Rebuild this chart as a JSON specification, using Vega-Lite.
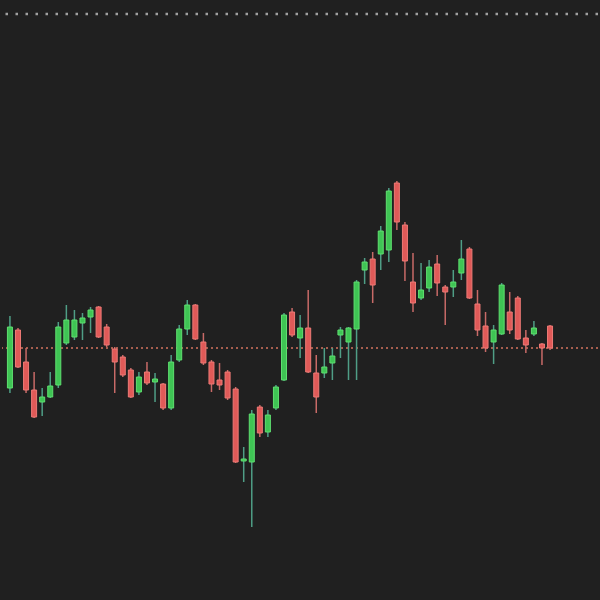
{
  "$schema": "https://vega.github.io/schema/vega-lite/v6.json",
  "autosize": {"type": "fit", "contains": "padding"},
  "width": 600,
  "height": 600,
  "padding": 0,
  "background": "#202020",
  "config": {"view": {"stroke": null}},
  "datasets": {
    "candles": [
      {"i":1,"open":212,"close":273,"high":284,"low":207},
      {"i":2,"open":270,"close":233,"high":272,"low":232},
      {"i":3,"open":238,"close":210,"high":252,"low":207},
      {"i":4,"open":210,"close":183,"high":228,"low":182},
      {"i":5,"open":198,"close":203,"high":212,"low":184},
      {"i":6,"open":203,"close":214,"high":228,"low":202},
      {"i":7,"open":215,"close":273,"high":278,"low":212},
      {"i":8,"open":257,"close":280,"high":295,"low":255},
      {"i":9,"open":263,"close":280,"high":290,"low":260},
      {"i":10,"open":277,"close":282,"high":287,"low":260},
      {"i":11,"open":283,"close":290,"high":293,"low":267},
      {"i":12,"open":293,"close":263,"high":294,"low":262},
      {"i":13,"open":273,"close":255,"high":276,"low":253},
      {"i":14,"open":251,"close":238,"high":253,"low":207},
      {"i":15,"open":243,"close":225,"high":245,"low":223},
      {"i":16,"open":230,"close":203,"high":232,"low":202},
      {"i":17,"open":208,"close":223,"high":228,"low":205},
      {"i":18,"open":228,"close":217,"high":238,"low":215},
      {"i":19,"open":218,"close":221,"high":227,"low":198},
      {"i":20,"open":216,"close":192,"high":217,"low":190},
      {"i":21,"open":192,"close":238,"high":245,"low":190},
      {"i":22,"open":240,"close":271,"high":275,"low":238},
      {"i":23,"open":271,"close":295,"high":300,"low":265},
      {"i":24,"open":295,"close":261,"high":296,"low":260},
      {"i":25,"open":258,"close":237,"high":267,"low":235},
      {"i":26,"open":238,"close":216,"high":240,"low":208},
      {"i":27,"open":220,"close":215,"high":237,"low":210},
      {"i":28,"open":228,"close":202,"high":230,"low":200},
      {"i":29,"open":211,"close":138,"high":213,"low":137},
      {"i":30,"open":139,"close":141,"high":153,"low":118},
      {"i":31,"open":138,"close":186,"high":190,"low":73},
      {"i":32,"open":193,"close":167,"high":195,"low":163},
      {"i":33,"open":168,"close":185,"high":190,"low":163},
      {"i":34,"open":192,"close":213,"high":215,"low":190},
      {"i":35,"open":220,"close":285,"high":287,"low":219},
      {"i":36,"open":288,"close":265,"high":292,"low":263},
      {"i":37,"open":262,"close":272,"high":285,"low":242},
      {"i":38,"open":272,"close":228,"high":310,"low":227},
      {"i":39,"open":227,"close":203,"high":245,"low":187},
      {"i":40,"open":227,"close":233,"high":252,"low":222},
      {"i":41,"open":237,"close":244,"high":252,"low":220},
      {"i":42,"open":265,"close":270,"high":273,"low":242},
      {"i":43,"open":258,"close":272,"high":273,"low":220},
      {"i":44,"open":271,"close":318,"high":320,"low":220},
      {"i":45,"open":330,"close":338,"high":342,"low":316},
      {"i":46,"open":341,"close":315,"high":348,"low":297},
      {"i":47,"open":346,"close":369,"high":374,"low":330},
      {"i":48,"open":350,"close":409,"high":412,"low":338},
      {"i":49,"open":417,"close":378,"high":419,"low":370},
      {"i":50,"open":375,"close":339,"high":378,"low":319},
      {"i":51,"open":318,"close":297,"high":347,"low":288},
      {"i":52,"open":302,"close":310,"high":337,"low":300},
      {"i":53,"open":312,"close":333,"high":340,"low":308},
      {"i":54,"open":336,"close":317,"high":345,"low":304},
      {"i":55,"open":313,"close":308,"high":315,"low":275},
      {"i":56,"open":313,"close":318,"high":330,"low":303},
      {"i":57,"open":327,"close":341,"high":360,"low":320},
      {"i":58,"open":351,"close":302,"high":353,"low":301},
      {"i":59,"open":296,"close":270,"high":310,"low":264},
      {"i":60,"open":274,"close":252,"high":288,"low":248},
      {"i":61,"open":258,"close":270,"high":275,"low":236},
      {"i":62,"open":266,"close":315,"high":317,"low":265},
      {"i":63,"open":288,"close":270,"high":308,"low":266},
      {"i":64,"open":302,"close":261,"high":304,"low":260},
      {"i":65,"open":262,"close":255,"high":270,"low":247},
      {"i":66,"open":266,"close":272,"high":279,"low":264},
      {"i":67,"open":256,"close":252,"high":257,"low":235},
      {"i":68,"open":274,"close":252,"high":275,"low":250}
    ],
    "lines": [
      {"level": 586, "kind": "top"},
      {"level": 252, "kind": "last"}
    ]
  },
  "layer": [
    {
      "data": {"name": "lines"},
      "transform": [{"filter": "datum.kind === 'top'"}],
      "mark": {"type": "rule", "stroke": "#a0a0a0", "strokeWidth": 2.5, "strokeDash": [2.5, 7.5]},
      "encoding": {
        "y": {"field": "level", "type": "quantitative", "scale": {"domain": [0, 600], "nice": false, "zero": false}, "axis": null}
      }
    },
    {
      "data": {"name": "lines"},
      "transform": [{"filter": "datum.kind === 'last'"}],
      "mark": {"type": "rule", "stroke": "#d4735e", "strokeWidth": 1.5, "strokeDash": [2, 3]},
      "encoding": {
        "y": {"field": "level", "type": "quantitative", "scale": {"domain": [0, 600], "nice": false, "zero": false}, "axis": null}
      }
    },
    {
      "data": {"name": "candles"},
      "mark": {"type": "rule", "strokeWidth": 1.5},
      "encoding": {
        "x": {"field": "i", "type": "quantitative", "scale": {"domain": [0.6365, 73.33], "nice": false, "zero": false}, "axis": null},
        "y": {"field": "low", "type": "quantitative", "scale": {"domain": [0, 600], "nice": false, "zero": false}, "axis": null},
        "y2": {"field": "high"},
        "color": {
          "condition": {"test": "datum.close >= datum.open", "value": "#4f9e86"},
          "value": "#c86a67"
        }
      }
    },
    {
      "data": {"name": "candles"},
      "mark": {"type": "bar", "size": 5, "strokeWidth": 1},
      "encoding": {
        "x": {"field": "i", "type": "quantitative", "scale": {"domain": [0.6365, 73.33], "nice": false, "zero": false}, "axis": null},
        "y": {"field": "open", "type": "quantitative", "scale": {"domain": [0, 600], "nice": false, "zero": false}, "axis": null},
        "y2": {"field": "close"},
        "fill": {
          "condition": {"test": "datum.close >= datum.open", "value": "#3fc454"},
          "value": "#e05a58"
        },
        "stroke": {
          "condition": {"test": "datum.close >= datum.open", "value": "#5fe070"},
          "value": "#ee7a76"
        }
      }
    }
  ]
}
